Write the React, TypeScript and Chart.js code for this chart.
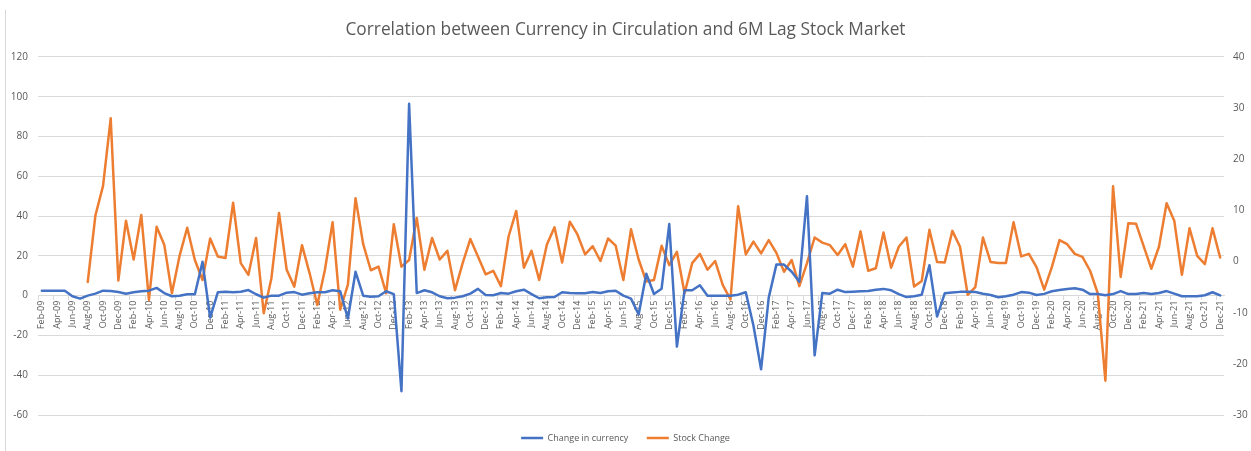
import { useEffect, useRef } from 'react';
import { Chart, registerables } from 'chart.js';

Chart.register(...registerables);

// ---- categories (monthly, Feb-09 .. Dec-21) ----
const MONTH_NAMES = ['Jan', 'Feb', 'Mar', 'Apr', 'May', 'Jun', 'Jul', 'Aug', 'Sep', 'Oct', 'Nov', 'Dec'];
const FIRST_MONTH_INDEX = 1; // Feb
const FIRST_YEAR = 9; // 2009
const MONTH_COUNT = 155;
const categories: string[] = Array.from({ length: MONTH_COUNT }, (_, k) => {
  const t = FIRST_MONTH_INDEX + k;
  const yy = FIRST_YEAR + Math.floor(t / 12);
  return `${MONTH_NAMES[t % 12]}-${String(yy).padStart(2, '0')}`;
});

// ---- series values ----
const currencyChange: number[] = [
  2.5, 2.5, 2.5, 2.5, -0.3, -1.5, 0, 1, 2.5, 2.3,
  1.8, 1, 1.7, 2.2, 2.5, 3.9, 1.3, -0.3, 0, 0.7,
  0.7, 17, -11, 1.7, 2, 1.7, 2, 2.8, 0.7, -1,
  0, 0, 1.5, 1.8, 0.5, 1.2, 1.7, 1.7, 2.7, 2.2,
  -11.5, 12, 0, -0.5, -0.3, 2.2, 0.8, -48, 96.5, 1.3,
  2.7, 1.7, -0.3, -1.3, -1.0, -0.3, 1, 3.4, 0.3, 0.2,
  1.3, 1, 2.2, 3.0, 0.8, -1.3, -0.8, -0.7, 1.7, 1.3,
  1.2, 1.2, 1.8, 1.3, 2.2, 2.5, 0, -1.5, -9.5, 11,
  0.8, 3.5, 36, -25.6, 2.7, 2.7, 5.2, 0, 0, 0,
  0, 0.5, 1.7, -15, -37, -1, 15.6, 15.6, 12, 7,
  50, -30, 1.3, 1.0, 3.0, 1.8, 2.0, 2.2, 2.3, 3.0,
  3.4, 2.7, 0.8, -0.7, -0.3, 0.5, 15.3, -10.5, 1.2, 1.6,
  1.9, 2.0, 1.8, 1.0, 0.3, -0.8, -0.3, 0.5, 1.8, 1.5,
  0.3, 0.9, 2.2, 2.8, 3.3, 3.7, 3.0, 0.8, 0.8, 0.2,
  0.8, 2.3, 0.8, 0.8, 1.3, 0.8, 1.3, 2.3, 1.0, -0.3,
  -0.3, -0.3, 0.2, 1.7, 0.1,
];

const stockChange: (number | null)[] = [
  null, null, null, null, null, null, -4.0, 9.0, 14.8, 28.0,
  -3.7, 8.0, 0.4, 9.1, -7.5, 6.8, 3.3, -6.2, 1.1, 6.6,
  0.3, -3.6, 4.5, 1.0, 0.7, 11.5, -0.3, -2.6, 4.6, -10.1,
  -3.3, 9.5, -1.6, -4.9, 3.2, -2.3, -8.5, -1.6, 7.7, -9.4,
  -4.5, 12.4, 3.4, -1.7, -1.0, -6.2, 7.3, -1.0, 0.3, 8.5,
  -1.6, 4.6, 0.4, 2.1, -5.6, -0.3, 4.4, 1.0, -2.5, -1.8,
  -4.8, 4.9, 9.9, -1.2, 2.1, -3.6, 3.3, 6.7, -0.2, 7.8,
  5.3, 1.4, 3.0, 0.1, 4.5, 3.1, -3.6, 6.3, 0.4, -3.9,
  -3.6, 3.1, -0.7, 1.9, -6.2, -0.3, 1.5, -1.6, 0.1, -4.6,
  -7.4, 10.8, 1.4, 3.9, 1.6, 4.2, 1.7, -2.0, 0.3, -4.8,
  -0.3, 4.7, 3.7, 3.2, 1.3, 3.4, -1.0, 5.9, -1.8, -1.3,
  5.7, -1.2, 2.9, 4.7, -4.9, -3.8, 6.2, -0.1, -0.2, 6.0,
  2.9, -6.5, -5.0, 4.7, -0.1, -0.3, -0.3, 7.7, 1.0, 1.5,
  -1.1, -5.5, -1.1, 4.2, 3.4, 1.5, 0.9, -1.8, -6.2, -23.3,
  14.7, -3.0, 7.5, 7.4, 3.0, -1.4, 2.9, 11.4, 8.0, -2.6,
  6.5, 1.1, -0.5, 6.5, 0.8,
];

// ---- axis ranges ----
const leftAxis = { min: -60, max: 120, step: 20 };
const rightAxis = { min: -30, max: 40, step: 10 };

const TITLE = 'Correlation between Currency in Circulation and 6M Lag Stock Market';
const SERIES_NAMES = ['Change in currency', 'Stock Change'];

const FONT = "'Open Sans', 'DejaVu Sans', sans-serif";
const TEXT = '#595959';
const GRID = '#d9d9d9';

export default function App() {
  const ref = useRef<HTMLCanvasElement>(null);

  useEffect(() => {
    if (!ref.current) return;
    const chart = new Chart(ref.current, {
      type: 'line',
      data: {
        labels: categories,
        datasets: [
          {
            label: SERIES_NAMES[0],
            data: currencyChange,
            borderColor: '#4472C4',
            backgroundColor: '#4472C4',
            borderWidth: 2.5,
            pointRadius: 0,
            tension: 0,
            borderJoinStyle: 'round',
            borderCapStyle: 'round',
            yAxisID: 'y',
          },
          {
            label: SERIES_NAMES[1],
            data: stockChange,
            borderColor: '#ED7D31',
            backgroundColor: '#ED7D31',
            borderWidth: 2.5,
            pointRadius: 0,
            tension: 0,
            borderJoinStyle: 'round',
            borderCapStyle: 'round',
            yAxisID: 'y1',
          },
        ],
      },
      options: {
        responsive: false,
        animation: false,
        layout: { padding: { left: 0, right: 0, top: 0, bottom: -1.5 } },
        plugins: {
          tooltip: { enabled: false },
          title: {
            display: true,
            text: TITLE,
            color: TEXT,
            font: { family: FONT, size: 17.3, weight: 'normal' },
            padding: { top: 20, bottom: 16.2 },
          },
          legend: {
            display: true,
            position: 'bottom',
            labels: {
              color: TEXT,
              font: { family: FONT, size: 9 },
              usePointStyle: true,
              pointStyleWidth: 22,
              pointStyle: 'line',
              boxHeight: 9,
              padding: 18.5,
            },
          },
        },
        scales: {
          x: {
            type: 'category',
            position: { y: 0 } as any,
            offset: true,
            grid: {
              display: true,
              offset: true,
              drawOnChartArea: false,
              drawTicks: true,
              tickLength: 4,
              color: (c: any) => (c.index % 2 === 0 ? GRID : 'rgba(0,0,0,0)'),
            },
            border: { display: true, color: GRID, width: 1 },
            ticks: {
              autoSkip: false,
              minRotation: 90,
              maxRotation: 90,
              padding: 1,
              color: TEXT,
              font: { family: FONT, size: 9 },
              callback: (_v: any, i: number) => (i % 2 === 0 ? categories[i] : ''),
            },
          },
          y: {
            position: 'left',
            min: leftAxis.min,
            max: leftAxis.max,
            border: { display: false },
            grid: { color: GRID, lineWidth: 1, drawTicks: false },
            ticks: {
              stepSize: leftAxis.step,
              padding: 10,
              color: TEXT,
              font: { family: FONT, size: 10 },
            },
            afterFit: (s: any) => {
              s.width = 38;
            },
          },
          y1: {
            position: 'right',
            min: rightAxis.min,
            max: rightAxis.max,
            border: { display: false },
            grid: { display: false, drawTicks: false },
            ticks: {
              stepSize: rightAxis.step,
              padding: 9,
              color: TEXT,
              font: { family: FONT, size: 10 },
            },
            afterFit: (s: any) => {
              s.width = 27;
            },
          },
        },
      },
    });
    return () => chart.destroy();
  }, []);

  return (
    <div style={{ position: 'fixed', left: 0, top: 0, width: 1251, height: 451, background: '#ffffff', overflow: 'hidden' }}>
      <div style={{ position: 'absolute', left: 5, top: 10, width: 1, height: 441, background: GRID }} />
      <canvas ref={ref} width={1251} height={451} style={{ position: 'absolute', left: 0, top: 0 }} />
    </div>
  );
}
